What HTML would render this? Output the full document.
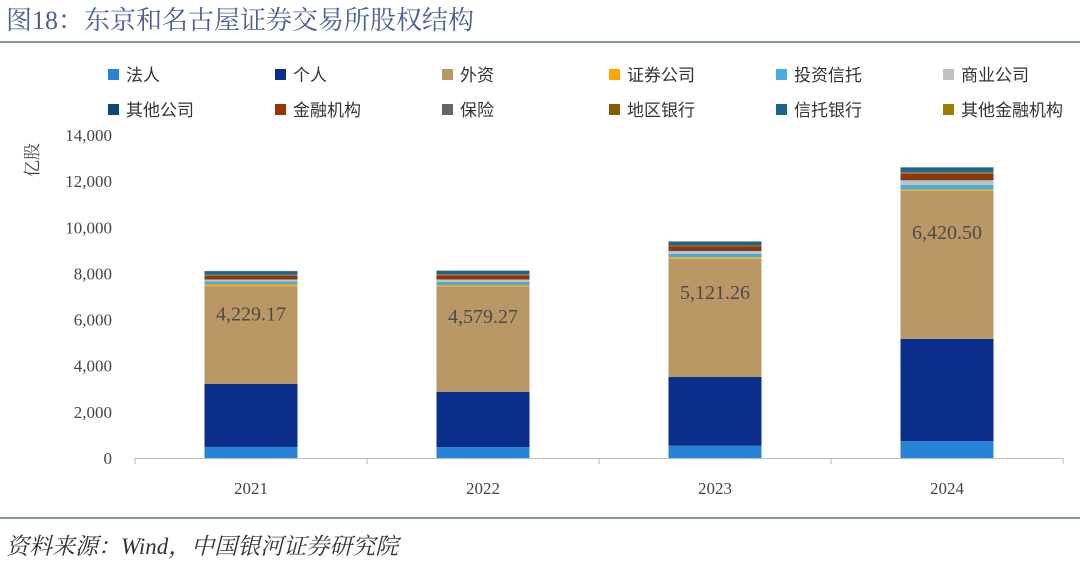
<!DOCTYPE html>
<html><head><meta charset="utf-8"><style>
body{margin:0;background:#fff;width:1080px;height:561px;overflow:hidden;font-family:"Liberation Serif","Noto Serif CJK SC",serif;}
.ttl{position:absolute;left:6px;top:0px;font-size:26px;color:#4a5f94;font-family:"Liberation Serif","Noto Serif CJK SC",serif;}
.src{position:absolute;left:6px;top:528px;font-size:23px;color:#333;font-style:italic;}
</style></head><body>
<div class="ttl">图18：东京和名古屋证券交易所股权结构</div>
<div style="position:absolute;left:0;top:41px;width:1080px;height:2px;background:#8193b8"></div>
<div style="position:absolute;left:0;top:517px;width:1080px;height:2px;background:#8193b8"></div>
<div class="src">资料来源：Wind，中国银河证券研究院</div>
<svg id="c" width="1080" height="561" style="position:absolute;left:0;top:0"></svg>
<script>
const years=["2021","2022","2023","2024"];
const seriesNames=["法人","个人","外资","证券公司","投资信托","商业公司","其他公司","金融机构","保险","地区银行","信托银行","其他金融机构"];
const colors=["#2683d6","#0b2d8c","#b99866","#ffa500","#45aee0","#c0c0c0","#0b4b7a","#993300","#666666","#8a5a00","#1a6690","#9a8000"];
const s0=[480,470,530,730];
const s1=[2730,2390,2980,4430];
const s2=[4229.17,4579.27,5121.26,6420.50];
const s3=[90,60,70,60];
const s4=[120,130,150,200];
const s5=[80,100,120,200];
const s6=[20,20,25,30];
const s7=[150,170,180,250];
const s8=[30,30,35,40];
const s9=[20,20,20,30];
const s10=[150,150,150,200];
const s11=[10,10,10,10];
const series=[s0,s1,s2,s3,s4,s5,s6,s7,s8,s9,s10,s11];
const yTicks=[0,2000,4000,6000,8000,10000,12000,14000];
const labels=["4,229.17","4,579.27","5,121.26","6,420.50"];
const NS="http://www.w3.org/2000/svg";
const svg=document.getElementById('c');
const x0=135,x1=1063,yb=458,yt=135,ymax=14000;
const y=v=>yb-(v/ymax)*(yb-yt);
const cw=(x1-x0)/years.length,bw=93;
function mk(t,a){const e=document.createElementNS(NS,t);for(const k in a)e.setAttribute(k,a[k]);svg.appendChild(e);return e;}
yTicks.forEach(v=>{
 const t=mk('text',{x:112,y:y(v)+6,'text-anchor':'end','font-size':17,fill:'#444','font-family':'Liberation Serif, serif'});t.textContent=v.toLocaleString('en-US');
 
 
});
const yt2=mk('text',{x:38,y:160,'font-size':17,fill:'#444',transform:'rotate(-90 38 160)','text-anchor':'middle','font-family':'Noto Serif CJK SC, serif'});yt2.textContent='亿股';


years.forEach((yr,i)=>{
 const cx=x0+cw*(i+0.5);let acc=0;
 series.forEach((s,j)=>{
  const r=mk('rect',{x:cx-bw/2,y:y(acc+s[i]),width:bw,height:y(acc)-y(acc+s[i]),fill:colors[j]});
  
  
  if(j==2){const top=y(acc+s[i]),h=y(acc)-top;
   const t=mk('text',{x:cx,y:top+h*0.27+8,'text-anchor':'middle','font-size':20,fill:'#4a4a4a','font-family':'Liberation Serif, serif'});t.textContent=labels[i];
   
   }
  acc+=s[i];
 });
 const t=mk('text',{x:cx,y:494,'text-anchor':'middle','font-size':17,fill:'#444','font-family':'Liberation Serif, serif'});t.textContent=yr;
 
 
});
const ax=mk('line',{x1:x0,y1:yb+0.5,x2:x1,y2:yb+0.5,stroke:'#bbb'});


for(let i=0;i<=years.length;i++){const tk=mk('line',{x1:x0+cw*i,y1:yb,x2:x0+cw*i,y2:yb+6,stroke:'#bbb'});
 
 }
seriesNames.forEach((n,j)=>{
 const col=j%6,row=Math.floor(j/6);const lx=108+col*167,ly=75+row*35;
 const g=document.createElementNS(NS,'g');svg.appendChild(g);
 
 
 const r=document.createElementNS(NS,'rect');r.setAttribute('x',lx);r.setAttribute('y',ly-6);r.setAttribute('width',11);r.setAttribute('height',11);r.setAttribute('fill',colors[j]);g.appendChild(r);
 const t=document.createElementNS(NS,'text');t.setAttribute('x',lx+18);t.setAttribute('y',ly+6);t.setAttribute('font-size',17);t.setAttribute('fill','#333');t.setAttribute('font-family','Noto Sans CJK SC, sans-serif');t.textContent=n;g.appendChild(t);
});
</script>
</body></html>
